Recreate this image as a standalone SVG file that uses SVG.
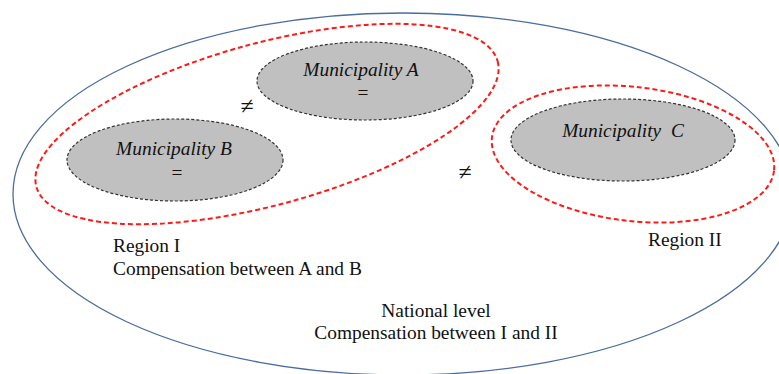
<svg xmlns="http://www.w3.org/2000/svg" width="779" height="374" viewBox="0 0 779 374">
<style>
.outer{fill:none;stroke:#4a6d9c;stroke-width:1.3}
.region{fill:none;stroke:#ff1a1a;stroke-width:2;stroke-dasharray:5 3}
.muni{fill:#c0c0c0;stroke:#333;stroke-width:1.2;stroke-dasharray:3 2}
text{font-size:19.4px;fill:#111}
.i{font-style:italic}
.m{text-anchor:middle}
.ne{font-size:24px}
</style>
<rect width="779" height="374" fill="#fff"/>
<g id="national">
<ellipse class="outer" cx="403" cy="194" rx="390" ry="181"/>
<g font-family="Liberation Serif, Times New Roman, DejaVu Serif, serif">
<text class="m" x="436" y="317">National level</text>
<text class="m" x="436" y="339">Compensation between I and II</text>
</g>
</g>
<g id="region-1" font-family="Liberation Serif, Times New Roman, DejaVu Serif, serif">
<ellipse class="region" cx="267" cy="124" rx="239" ry="81" transform="rotate(-15.2 267 124)"/>
<text x="113" y="252">Region I</text>
<text x="113" y="275">Compensation between A and B</text>
</g>
<g id="region-2" font-family="Liberation Serif, Times New Roman, DejaVu Serif, serif">
<ellipse class="region" cx="633" cy="154" rx="142" ry="67" transform="rotate(6.7 633 154)"/>
<text x="648" y="246">Region II</text>
</g>
<g id="municipality-a" font-family="Liberation Serif, Times New Roman, DejaVu Serif, serif">
<ellipse class="muni" cx="365" cy="81" rx="108" ry="39"/>
<text class="i m" x="361" y="76">Municipality A</text>
<text class="m" x="363" y="99">=</text>
</g>
<g id="municipality-b" font-family="Liberation Serif, Times New Roman, DejaVu Serif, serif">
<ellipse class="muni" cx="175" cy="160" rx="108" ry="41"/>
<text class="i m" x="174" y="155">Municipality B</text>
<text class="m" x="177" y="179">=</text>
</g>
<g id="municipality-c" font-family="Liberation Serif, Times New Roman, DejaVu Serif, serif">
<ellipse class="muni" cx="623" cy="140" rx="112" ry="41"/>
<text class="i m" x="623" y="137" xml:space="preserve">Municipality  C</text>
</g>
<g id="connectors" font-family="Liberation Serif, Times New Roman, DejaVu Serif, serif">
<text class="m ne" x="247" y="114">≠</text>
<text class="m ne" x="465" y="180">≠</text>
</g>
</svg>
